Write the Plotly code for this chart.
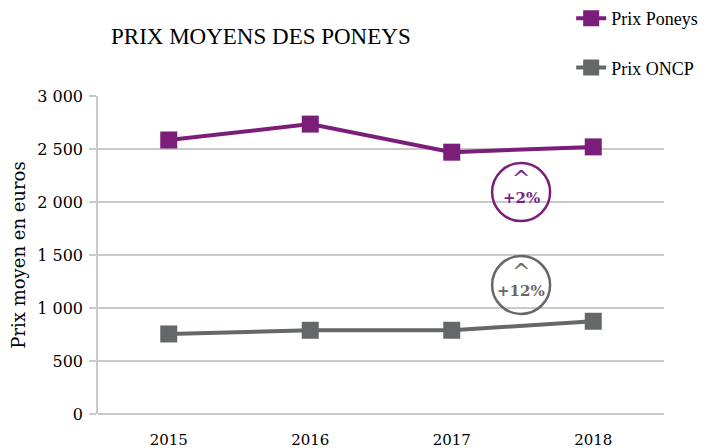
import plotly.graph_objects as go

# ── Data ──
years = ["2015", "2016", "2017", "2018"]
prix_poneys = [2585, 2735, 2470, 2520]
prix_oncp = [755, 790, 790, 875]
y_ticks = [0, 500, 1000, 1500, 2000, 2500, 3000]
y_tick_labels = ["0", "500", "1 000", "1 500", "2 000", "2 500", "3 000"]

PURPLE = "#7a1e7a"
GRAY = "#656868"
GRID = "#c9c9c9"
SERIF = "DejaVu Serif"
TIMES = "Liberation Serif"

fig = go.Figure()

for name, vals, color, grp in (
    ("Prix Poneys", prix_poneys, PURPLE, "a"),
    ("Prix ONCP", prix_oncp, GRAY, "b"),
):
    fig.add_trace(go.Scatter(
        x=years, y=vals, mode="lines+markers", name=name,
        legendgroup=grp,
        line=dict(color=color, width=4),
        marker=dict(symbol="square", size=17, color=color),
        hoverinfo="x+y",
    ))

# growth badges: circle + caret + percentage
badges = [
    (2.49, 2094, PURPLE, "+2%"),
    (2.49, 1217, GRAY, "+12%"),
]
shapes = []
annotations = []
for xc, yc, color, label in badges:
    shapes.append(dict(
        type="circle", xref="x", yref="y",
        xsizemode="pixel", ysizemode="pixel",
        xanchor=xc, yanchor=yc,
        x0=-29, x1=29, y0=-29, y1=29,
        line=dict(color=color, width=2.5),
    ))
    annotations.append(dict(
        x=xc, y=yc, xref="x", yref="y", yshift=14, text="^",
        showarrow=False, font=dict(family=SERIF, size=22, color=color),
    ))
    annotations.append(dict(
        x=xc, y=yc, xref="x", yref="y", yshift=-6, text=f"<b>{label}</b>",
        showarrow=False, font=dict(family=SERIF, size=15, color=color),
    ))

# the page puts the figure ~8px in from the window corner, so margins
# are trimmed by that much to land the plot area where the original has it
fig.update_layout(
    width=710, height=448,
    margin=dict(l=90, r=54, t=88, b=42, autoexpand=False),
    plot_bgcolor="white", paper_bgcolor="white",
    title=dict(
        text="PRIX MOYENS DES PONEYS",
        x=103 / 710, xanchor="left", y=1 - 28 / 448, yanchor="middle",
        font=dict(family=TIMES, size=23, color="black"),
    ),
    legend=dict(
        x=0.836, xanchor="left", y=1.302, yanchor="top",
        font=dict(family=TIMES, size=18, color="black"),
        tracegroupgap=23, bgcolor="rgba(0,0,0,0)",
    ),
    xaxis=dict(
        type="category", range=[-0.5, 3.5], automargin=False,
        showgrid=False, showline=False, zeroline=False,
        ticks="outside", ticklen=12, tickcolor="rgba(0,0,0,0)",
        tickfont=dict(family=SERIF, size=15, color="black"),
    ),
    yaxis=dict(
        range=[0, 3000], tickvals=y_ticks, ticktext=y_tick_labels,
        automargin=False,
        showgrid=True, gridcolor=GRID, gridwidth=1.5,
        showline=True, linecolor=GRID, linewidth=1.5,
        zeroline=True, zerolinecolor=GRID, zerolinewidth=1.5,
        ticks="outside", ticklen=7, tickcolor=GRID, tickwidth=1.5,
        ticklabelstandoff=3,
        tickfont=dict(family=SERIF, size=16, color="black"),
        title=dict(text="Prix moyen en euros", standoff=13,
                   font=dict(family=SERIF, size=18, color="black")),
    ),
    shapes=shapes,
    annotations=annotations,
)

fig.write_html("out.html")
